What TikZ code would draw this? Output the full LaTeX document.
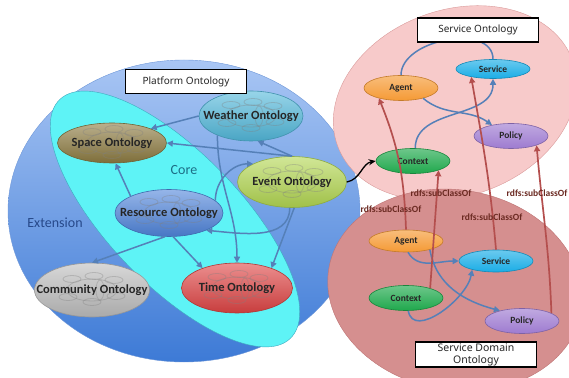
\documentclass[tikz,border=0pt]{standalone}
\usepackage{fontspec}
\setmainfont{Carlito}
\newfontfamily\boxfont{Noto Sans}
\usetikzlibrary{shapes.geometric,arrows.meta}

\definecolor{platformtop}{HTML}{A9C6F4}
\definecolor{platformbottom}{HTML}{3D7AD6}
\definecolor{platformedge}{HTML}{6E97D8}
\definecolor{corecyan}{HTML}{5EF3F6}
\definecolor{coreedge}{HTML}{3FA9BE}
\definecolor{svcpink}{HTML}{F7CACA}
\definecolor{svcedge}{HTML}{D99A9A}
\definecolor{dompink}{HTML}{D58F8F}
\definecolor{domedge}{HTML}{BE7474}
\definecolor{spacecol}{HTML}{8C7A40}
\definecolor{weathercol}{HTML}{52B8DA}
\definecolor{eventcol}{HTML}{B2D651}
\definecolor{resourcecol}{HTML}{4F84DA}
\definecolor{communitycol}{HTML}{BDBDBD}
\definecolor{timecol}{HTML}{DE4444}
\definecolor{agentcol}{HTML}{F59A35}
\definecolor{servicecol}{HTML}{1AADE6}
\definecolor{policycol}{HTML}{9E7BD0}
\definecolor{contextcol}{HTML}{1FA84C}
\definecolor{flowblue}{HTML}{5580B8}
\definecolor{subred}{HTML}{B44F4E}
\definecolor{labelbrown}{HTML}{6B2A22}
\definecolor{coretext}{HTML}{1C6E86}
\definecolor{exttext}{HTML}{27498A}

\newcommand{\ontext}[1]{\makebox[0pt]{#1}}
\newcommand{\innergraph}{%
	\foreach \gx/\gy in {-20/11,2/14,22/10,-24/-7,0/-12,24/-6}
		\draw[black!50, opacity=.35, line width=.8pt] ([shift={(\gx,\gy)}]path picture bounding box.center) ellipse [x radius=9, y radius=3.5];
	\draw[black!50, opacity=.35, line width=.8pt] (path picture bounding box.center) ellipse [x radius=25, y radius=11];
	\draw[black!50, opacity=.35, line width=.8pt] ([shift={(8,0)}]path picture bounding box.center) ellipse [x radius=4, y radius=10];
}

\begin{document}
\begin{tikzpicture}[x=1pt,y=1pt,
		ontology/.style={ellipse, draw=#1!80!black, line width=.6pt, top color=#1!60!white, bottom color=#1!90!black, inner sep=0pt, text=black!85, font=\bfseries\fontsize{12.5}{13}\selectfont, path picture={\innergraph}},
		concept/.style={ellipse, draw=#1!80!black, line width=.6pt, top color=#1!65!white, bottom color=#1, inner sep=0pt, minimum width=74pt, minimum height=25pt, text=black!85, font=\bfseries\fontsize{9.5}{10}\selectfont},
		titlebox/.style={draw=black, line width=1.3pt, fill=white, inner sep=0pt, minimum width=121pt, minimum height=24pt, align=center, text=black!85, font=\boxfont\fontsize{10}{11}\selectfont},
		flow/.style={draw=flowblue, line width=1.5pt, -{Triangle[length=6pt,width=6pt]}},
		flowline/.style={draw=flowblue, line width=1.5pt},
		subclass/.style={draw=subred, line width=1.7pt, -{Triangle[length=6pt,width=6pt]}},
		sublabel/.style={text=labelbrown, font=\bfseries\fontsize{9.5}{10}\selectfont}]
	\useasboundingbox (0,0) rectangle (569,377);
	\clip (0,0) rectangle (569,377);

	\draw[draw=platformedge, top color=platformtop, bottom color=platformbottom] (184,166) ellipse [x radius=176, y radius=151];
	\draw[fill=corecyan, draw=coreedge, rotate around={-46:(175,158)}] (175,158) ellipse [x radius=166, y radius=66];
	\draw[fill=svcpink, draw=svcedge, rotate around={20:(455,274)}] (455,274) ellipse [x radius=125, y radius=93];
	\draw[fill=dompink, draw=domedge, rotate around={-10:(455,87)}] (455,87) ellipse [x radius=128, y radius=100];

	\node[text=coretext, font=\fontsize{14}{15}\selectfont] (corelabel) at (184,207) {Core};
	\node[text=exttext, font=\fontsize{14}{15}\selectfont] (extlabel) at (55,154) {Extension};

	\node[ontology=weathercol, minimum width=104pt, minimum height=50pt] (weather) at (251,261) {\ontext{Weather Ontology}};
	\node[ontology=spacecol, minimum width=109pt, minimum height=40pt] (space) at (112,234) {\ontext{Space Ontology}};
	\node[ontology=eventcol, minimum width=109pt, minimum height=51pt] (event) at (292,195) {\ontext{Event Ontology}};
	\node[ontology=resourcecol, minimum width=108pt, minimum height=47pt] (resource) at (169,164) {\ontext{Resource Ontology}};
	\node[ontology=communitycol, minimum width=115pt, minimum height=54pt] (community) at (92,87) {\ontext{Community Ontology}};
	\node[ontology=timecol, minimum width=111pt, minimum height=50pt] (time) at (237,89) {\ontext{Time Ontology}};

	\draw[flow] (weather.west) -- (space.north east);
	\draw[flow] (event.north) -- (space.east);
	\draw[flow] (event.north) -- (weather.-75);
	\draw[flow] (resource.north west) -- (space.-80);
	\draw[flow] (weather.-150) to[out=-90,in=90] (time.north);
	\draw[flow] (resource.15) to[out=90,in=180] (event.155);
	\draw[flow] (event.-95) to[out=-90,in=-5] (resource.-25);
	\draw[flow] (event.-85) -- (time.30);
	\draw[flow] (resource.-80) -- (time.150);
	\draw[flow] (resource.-100) -- (community.north);

	\node[concept=agentcol] (sagent) at (401,289) {\ontext{Agent}};
	\node[concept=servicecol, minimum height=19pt] (sservice) at (493,308) {\ontext{Service}};
	\node[concept=policycol] (spolicy) at (511,241) {\ontext{Policy}};
	\node[concept=contextcol] (sctx) at (413,216) {\ontext{Context}};
	\node[concept=agentcol, minimum height=22pt] (dagent) at (406,136) {\ontext{Agent}};
	\node[concept=servicecol, minimum height=22pt] (dservice) at (496,116) {\ontext{Service}};
	\node[concept=contextcol] (dctx) at (406,79) {\ontext{Context}};
	\node[concept=policycol] (dpolicy) at (522,56) {\ontext{Policy}};

	\draw[black, line width=1.3pt, -{Stealth[length=7pt,width=6pt]}] (event.east) to[out=10,in=190] (sctx.west);

	\draw[flowline] (sagent.north) to[out=90,in=90] (sservice.north);
	\draw[flow] (sagent.-25) to[out=-40,in=145] (spolicy.150);
	\draw[flow] (sctx.80) to[out=90,in=-90] (sservice.south);
	\draw[flow] (dagent.-80) to[out=-60,in=180] (dservice.west);
	\draw[flow] (dctx.-80) to[out=-80,in=-100] (dservice.-160);
	\draw[flow] (dagent.-20) to[out=-80,in=165] (dpolicy.155);

	\draw[subclass] (dagent.north) to[out=92,in=-68] (sagent.-155);
	\draw[subclass] (dctx.22) -- (sctx.-20);
	\draw[subclass] (dservice.north) to[out=95,in=-80] (sservice.-160);
	\draw[subclass] (dpolicy.15) to[out=92,in=-85] (spolicy.-20);

	\node[sublabel] (subA) at (441,184) {rdfs:subClassOf};
	\node[sublabel] (subB) at (537,184) {rdfs:subClassOf};
	\node[sublabel] (subC) at (391,168) {rdfs:subClassOf};
	\node[sublabel] (subD) at (492,160) {rdfs:subClassOf};

	\node[titlebox] (platformbox) at (186,295.5) {Platform Ontology};
	\node[titlebox] (servicebox) at (478,347) {Service Ontology};
	\node[titlebox, minimum height=25pt, font=\boxfont\fontsize{10.5}{12}\selectfont] (domainbox) at (476,22.5) {Service Domain\\Ontology};
\end{tikzpicture}
\end{document}
